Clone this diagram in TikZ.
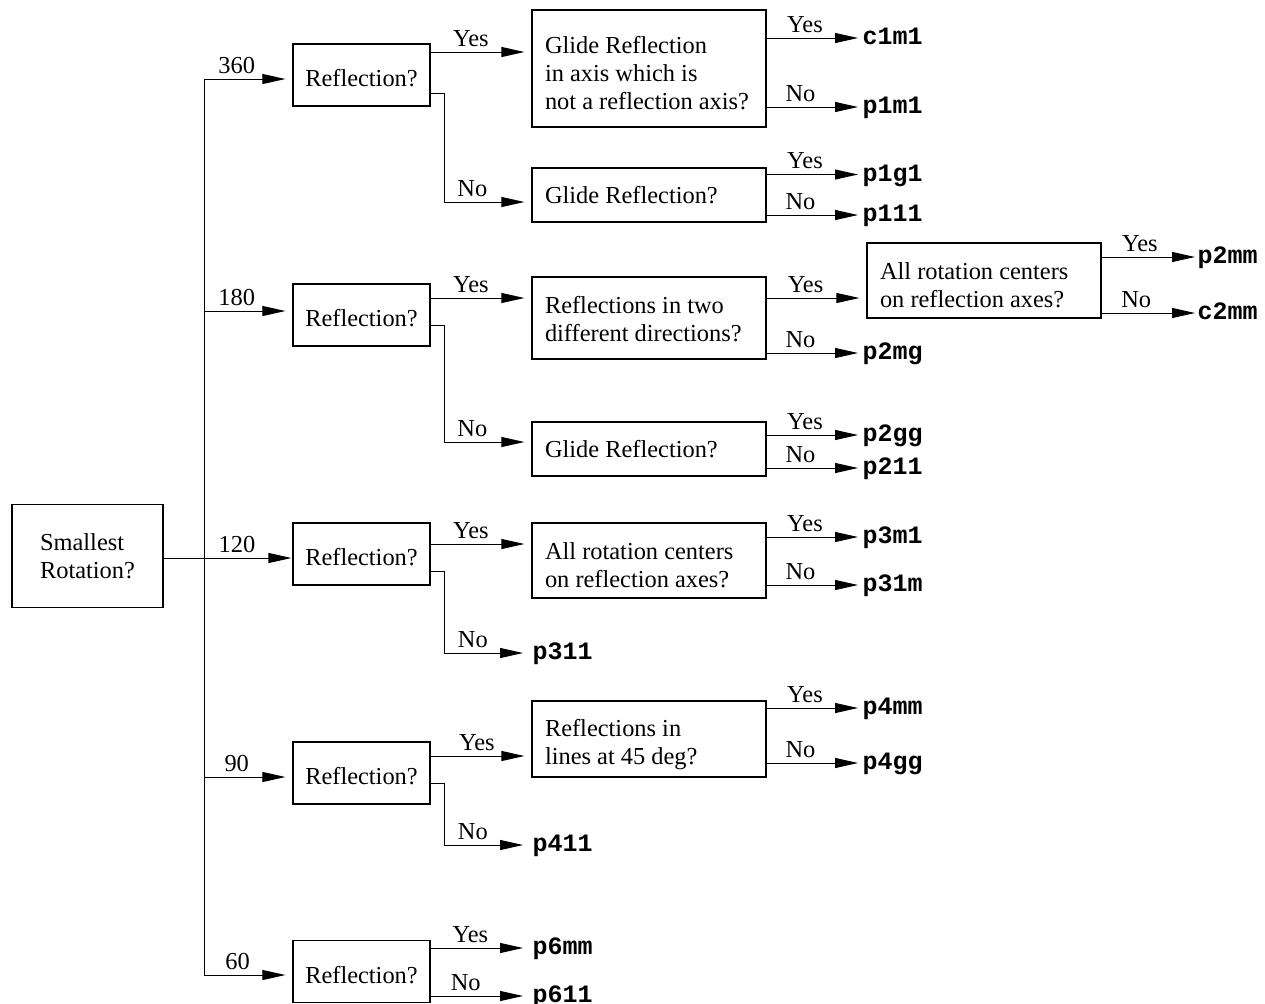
\documentclass[tikz,border=0pt]{standalone}
\usepackage{fontspec}
\setmainfont{Liberation Serif}
\setmonofont{Liberation Mono}
\usetikzlibrary{arrows.meta}

\begin{document}
\begin{tikzpicture}[x=0.5pt,y=-0.5pt,line width=0.5pt,
  every node/.style={font=\fontsize{12.2}{14}\selectfont},
  qbox/.style={draw,line width=0.6pt,inner sep=0pt},
  rbox/.style={qbox,minimum width=68.5pt,minimum height=31pt,text height=11.5pt,text depth=0pt},
  wbox/.style={qbox,minimum width=117pt,text width=104pt,align=left,minimum height=#1,down=0pt},
  down/.style={execute at begin node={\spaceskip=0pt\xspaceskip=0pt\hyphenpenalty=10000\rule{0pt}{#1}}},
  grp/.style={anchor=west,inner xsep=2pt,inner ysep=0pt,text height=8pt,text depth=1.5pt,
    font=\fontsize{12.5}{14}\selectfont\ttfamily\bfseries},
  lbl/.style={above,inner sep=2.5pt},
  arr/.style={-{Triangle[length=11.5pt,width=5pt]}},
  tobox/.style={arr,shorten >=3.5pt}]

\useasboundingbox (0,0) rectangle (1265,1003);

% questions
\node[qbox,minimum width=75.5pt,minimum height=51.5pt,align=left] (start) at (87.5,556) {Smallest\\Rotation?};
\node[rbox] (r360) at (361.5,75) {Reflection?};
\node[rbox] (r180) at (361.5,315) {Reflection?};
\node[rbox] (r120) at (361.5,554) {Reflection?};
\node[rbox] (r90) at (361.5,773) {Reflection?};
\node[rbox] (r60) at (361.5,971.5) {Reflection?};
\node[wbox=58.5pt,down=13.5pt] (glide1) at (649,68.5) {Glide Reflection\\in axis which is\\not a reflection axis?};
\node[wbox=27pt] (glide2) at (649,195) {Glide Reflection?};
\node[wbox=41pt,down=10pt] (twodir) at (649,318) {Reflections in two\\different directions?};
\node[wbox=27pt] (glide3) at (649,449) {Glide Reflection?};
\node[wbox=37.5pt,down=13.5pt] (centers3) at (649,560.5) {All rotation centers\\on reflection axes?};
\node[wbox=38pt,down=14pt] (deg45) at (649,739) {Reflections in\\lines at 45 deg?};
\node[wbox=37.5pt,down=13.5pt] (centers2) at (984,280.5) {All rotation centers\\on reflection axes?};

% groups
\node[grp] (c1m1) at (858,38) {c1m1};
\node[grp] (p1m1) at (858,107) {p1m1};
\node[grp] (p1g1) at (858,174.5) {p1g1};
\node[grp] (p111) at (858,215) {p111};
\node[grp] (p2mg) at (858,353) {p2mg};
\node[grp] (p2gg) at (858,435) {p2gg};
\node[grp] (p211) at (858,468) {p211};
\node[grp] (p3m1) at (858,537) {p3m1};
\node[grp] (p31m) at (858,585) {p31m};
\node[grp] (p4mm) at (858,708) {p4mm};
\node[grp] (p4gg) at (858,763) {p4gg};
\node[grp,inner xsep=1pt] (p2mm) at (1195,257) {p2mm};
\node[grp,inner xsep=1pt] (c2mm) at (1195,313) {c2mm};
\node[grp,inner xsep=4.5pt] (p311) at (523,653) {p311};
\node[grp,inner xsep=4.5pt] (p411) at (523,845) {p411};
\node[grp,inner xsep=4.5pt] (p6mm) at (523,948) {p6mm};
\node[grp,inner xsep=4.5pt] (p611) at (523,996) {p611};

% rotation trunk
\coordinate (t360) at (204,79);
\coordinate (t180) at (204,311);
\coordinate (t90) at (204,777);
\coordinate (t60) at (204,975);
\draw (t360) -- (t60);
\draw[tobox] (t360) -- node[lbl,pos=.37] (a360) {360} (r360.west |- t360);
\draw[tobox] (t180) -- node[lbl,pos=.37] (a180) {180} (r180.west |- t180);
\draw[arr,shorten >=0.5pt] (start.east |- 0,558) -- node[lbl,pos=.57] (a120) {120} (r120.west |- 0,558);
\draw[tobox] (t90) -- node[lbl,pos=.37] (a90) {90} (r90.west |- t90);
\draw[tobox] (t60) -- node[lbl,pos=.38] (a60) {60} (r60.west |- t60);

% reflection?
\draw[tobox] (r360.east |- 0,52) -- node[lbl,pos=.4] (y360) {Yes} (glide1.west |- 0,52);
\draw[tobox] (r360.east |- 0,93) -- ++(14,0) |- node[lbl,pos=.66] (n360) {No} (glide2.west |- 0,202);
\draw[tobox] (r180.east |- 0,298) -- node[lbl,pos=.4] (y180) {Yes} (twodir.west |- 0,298);
\draw[tobox] (r180.east |- 0,325) -- ++(14,0) |- node[lbl,pos=.66] (n180) {No} (glide3.west |- 0,442);
\draw[tobox] (r120.east |- 0,544) -- node[lbl,pos=.4] (y120) {Yes} (centers3.west |- 0,544);
\draw[arr] (r120.east |- 0,571) -- ++(14,0) |- node[lbl,pos=.68] (n120) {No} (p311.west);
\draw[tobox] (r90.east |- 0,756) -- node[lbl,pos=.46] (y90) {Yes} (deg45.west |- 0,756);
\draw[arr] (r90.east |- 0,783) -- ++(14,0) |- node[lbl,pos=.68] (n90) {No} (p411.west);
\draw[arr] (r60.east |- p6mm.west) -- node[lbl,pos=.43] (y60) {Yes} (p6mm.west);
\draw[arr] (r60.east |- p611.west) -- node[lbl,pos=.38] (n60) {No} (p611.west);

% second level
\draw[arr] (glide1.east |- c1m1.west) -- node[lbl,pos=.42] (yg1) {Yes} (c1m1.west);
\draw[arr] (glide1.east |- p1m1.west) -- node[lbl,pos=.37] (ng1) {No} (p1m1.west);
\draw[arr] (glide2.east |- p1g1.west) -- node[lbl,pos=.42] (yg2) {Yes} (p1g1.west);
\draw[arr] (glide2.east |- p111.west) -- node[lbl,pos=.37] (ng2) {No} (p111.west);
\draw[tobox] (twodir.east |- 0,298) -- node[lbl,pos=.39] (ytd) {Yes} (centers2.west |- 0,298);
\draw[arr] (twodir.east |- p2mg.west) -- node[lbl,pos=.37] (ntd) {No} (p2mg.west);
\draw[arr] (glide3.east |- p2gg.west) -- node[lbl,pos=.42] (yg3) {Yes} (p2gg.west);
\draw[arr] (glide3.east |- p211.west) -- node[lbl,pos=.37] (ng3) {No} (p211.west);
\draw[arr] (centers3.east |- p3m1.west) -- node[lbl,pos=.42] (yc3) {Yes} (p3m1.west);
\draw[arr] (centers3.east |- p31m.west) -- node[lbl,pos=.37] (nc3) {No} (p31m.west);
\draw[arr] (deg45.east |- p4mm.west) -- node[lbl,pos=.42] (y45) {Yes} (p4mm.west);
\draw[arr] (deg45.east |- p4gg.west) -- node[lbl,pos=.37] (n45) {No} (p4gg.west);
\draw[arr] (centers2.east |- p2mm.west) -- node[lbl,pos=.41] (yc2) {Yes} (p2mm.west);
\draw[arr] (centers2.east |- c2mm.west) -- node[lbl,pos=.37] (nc2) {No} (c2mm.west);
\end{tikzpicture}
\end{document}
